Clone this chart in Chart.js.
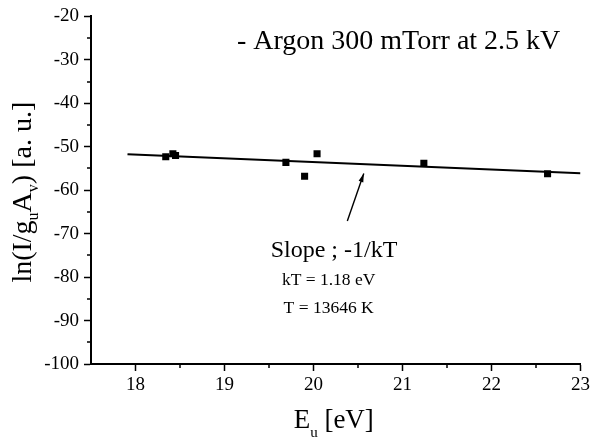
<!DOCTYPE html>
<html>
<head>
<meta charset="utf-8">
<script src="https://cdn.jsdelivr.net/npm/chart.js@4.4.1/dist/chart.umd.min.js"></script>
<style>
  html, body { margin: 0; padding: 0; background: #ffffff; }
  #c { display: block; }
</style>
</head>
<body>
<canvas id="c" width="593" height="441"></canvas>
<script>
// ---- data ----
const energies = [18.34, 18.42, 18.45, 19.69, 19.90, 20.04, 21.24, 22.63];
const lnValues = [-52.3, -51.6, -52.0, -53.6, -56.8, -51.6, -53.8, -56.2];
const fitX = [17.91, 23.0];
const fitY = [-51.7, -56.1];
const xTicks = [18, 19, 20, 21, 22, 23];
const xTickLabels = ['18', '19', '20', '21', '22', '23'];
const xMinorTicks = [18.5, 19.5, 20.5, 21.5, 22.5];
const yTicks = [-100, -90, -80, -70, -60, -50, -40, -30, -20];
const yTickLabels = ['-100', '-90', '-80', '-70', '-60', '-50', '-40', '-30', '-20'];
const yMinorTicks = [-95, -85, -75, -65, -55, -45, -35, -25];
const titleText = '- Argon 300 mTorr at 2.5 kV';
const noteLines = ['Slope ; -1/kT', 'kT = 1.18 eV', 'T = 13646 K'];
// annotation anchor points in data units
const titlePos = { x: 19.14, y: -27.6 };
const notePos = [{ x: 20.23, y: -75.3 }, { x: 20.17, y: -81.8 }, { x: 20.17, y: -88.2 }];
const arrowFrom = { x: 20.38, y: -67.1 };
const arrowTo = { x: 20.565, y: -56.16 };

const SERIF = '"Liberation Serif", "DejaVu Serif", serif';

const points = energies.map((e, i) => ({ x: e, y: lnValues[i] }));
const fitLine = fitX.map((x, i) => ({ x: x, y: fitY[i] }));

const decorations = {
  id: 'decorations',
  afterDraw(chart) {
    const ctx = chart.ctx;
    const xs = chart.scales.x, ys = chart.scales.y;
    const area = chart.chartArea;
    ctx.save();
    ctx.strokeStyle = '#000';
    ctx.fillStyle = '#000';
    // minor ticks
    ctx.lineWidth = 1.5;
    ctx.beginPath();
    xMinorTicks.forEach(v => {
      const px = Math.round(xs.getPixelForValue(v));
      ctx.moveTo(px, area.bottom);
      ctx.lineTo(px, area.bottom + 4);
    });
    yMinorTicks.forEach(v => {
      const py = Math.round(ys.getPixelForValue(v));
      ctx.moveTo(area.left, py);
      ctx.lineTo(area.left - 4, py);
    });
    ctx.stroke();

    // title inside plot
    ctx.font = '28px ' + SERIF;
    ctx.textAlign = 'left';
    ctx.textBaseline = 'alphabetic';
    ctx.fillText(titleText, xs.getPixelForValue(titlePos.x), ys.getPixelForValue(titlePos.y));

    // notes
    ctx.textAlign = 'center';
    noteLines.forEach((t, i) => {
      ctx.font = (i === 0 ? '24px ' : '17.5px ') + SERIF;
      ctx.fillText(t, xs.getPixelForValue(notePos[i].x), ys.getPixelForValue(notePos[i].y));
    });

    // arrow
    const x0 = xs.getPixelForValue(arrowFrom.x), y0 = ys.getPixelForValue(arrowFrom.y);
    const x1 = xs.getPixelForValue(arrowTo.x), y1 = ys.getPixelForValue(arrowTo.y);
    ctx.lineWidth = 1.4;
    ctx.beginPath();
    ctx.moveTo(x0, y0);
    ctx.lineTo(x1, y1);
    ctx.stroke();
    const ang = Math.atan2(y1 - y0, x1 - x0);
    const hl = 9, hw = 0.28;
    ctx.beginPath();
    ctx.moveTo(x1, y1);
    ctx.lineTo(x1 - hl * Math.cos(ang - hw), y1 - hl * Math.sin(ang - hw));
    ctx.lineTo(x1 - hl * Math.cos(ang + hw), y1 - hl * Math.sin(ang + hw));
    ctx.closePath();
    ctx.fill();

    // x axis title: E_u [eV]
    ctx.textAlign = 'left';
    const xt = [
      { t: 'E', f: 27, dy: 0 },
      { t: 'u', f: 15, dy: 9 },
      { t: ' [eV]', f: 27, dy: 0 }
    ];
    let wsum = 0;
    xt.forEach(s => { ctx.font = s.f + 'px ' + SERIF; s.w = ctx.measureText(s.t).width; wsum += s.w; });
    let cx = (area.left + area.right) / 2 - wsum / 2 - 2;
    const xBase = 428;
    xt.forEach(s => {
      ctx.font = s.f + 'px ' + SERIF;
      ctx.fillText(s.t, cx, xBase + s.dy);
      cx += s.w;
    });

    // y axis title: ln(I/g_u A_v) [a. u.]
    const yt = [
      { t: 'ln(I/g', f: 28, dy: 0 },
      { t: 'u', f: 16, dy: 7 },
      { t: 'A', f: 28, dy: 0 },
      { t: 'v', f: 16, dy: 7 },
      { t: ') [a. u.]', f: 28, dy: 0 }
    ];
    let hsum = 0;
    yt.forEach(s => { ctx.font = s.f + 'px ' + SERIF; s.w = ctx.measureText(s.t).width; hsum += s.w; });
    ctx.translate(31, (area.top + area.bottom) / 2 + 2);
    ctx.rotate(-Math.PI / 2);
    let cy = -hsum / 2;
    yt.forEach(s => {
      ctx.font = s.f + 'px ' + SERIF;
      ctx.fillText(s.t, cy, s.dy);
      cy += s.w;
    });
    ctx.restore();
  }
};

new Chart(document.getElementById('c'), {
  data: {
    datasets: [
      {
        type: 'scatter',
        data: points,
        pointStyle: 'rect',
        pointRadius: 5,
        pointBackgroundColor: '#000',
        pointBorderColor: '#000',
        pointBorderWidth: 0,
        order: 1
      },
      {
        type: 'line',
        data: fitLine,
        borderColor: '#000',
        borderWidth: 2,
        pointRadius: 0,
        fill: false,
        tension: 0,
        order: 2
      }
    ]
  },
  options: {
    responsive: false,
    animation: false,
    events: [],
    layout: { padding: { top: 16, right: 10, left: 0, bottom: 0 } },
    plugins: { legend: { display: false }, tooltip: { enabled: false }, title: { display: false } },
    scales: {
      x: {
        type: 'linear',
        min: 17.5,
        max: 23,
        afterBuildTicks: s => { s.ticks = xTicks.map(v => ({ value: v })); },
        afterFit: s => { s.height = 77; },
        border: { display: true, color: '#000', width: 2 },
        grid: { display: true, drawOnChartArea: false, drawTicks: true, tickLength: 7, tickWidth: 1.5, tickColor: '#000' },
        ticks: {
          color: '#000',
          font: { family: SERIF, size: 19 },
          padding: 3,
          maxRotation: 0,
          autoSkip: false,
          callback: (v) => { const i = xTicks.indexOf(v); return i >= 0 ? xTickLabels[i] : ''; }
        }
      },
      y: {
        type: 'linear',
        min: -100,
        max: -20,
        afterBuildTicks: s => { s.ticks = yTicks.map(v => ({ value: v })); },
        afterFit: s => { s.width = 91; },
        border: { display: true, color: '#000', width: 2 },
        grid: { display: true, drawOnChartArea: false, drawTicks: true, tickLength: 7, tickWidth: 1.5, tickColor: '#000' },
        ticks: {
          color: '#000',
          font: { family: SERIF, size: 19 },
          padding: 5,
          autoSkip: false,
          callback: (v) => { const i = yTicks.indexOf(v); return i >= 0 ? yTickLabels[i] : ''; }
        }
      }
    }
  },
  plugins: [decorations]
});
</script>
</body>
</html>
